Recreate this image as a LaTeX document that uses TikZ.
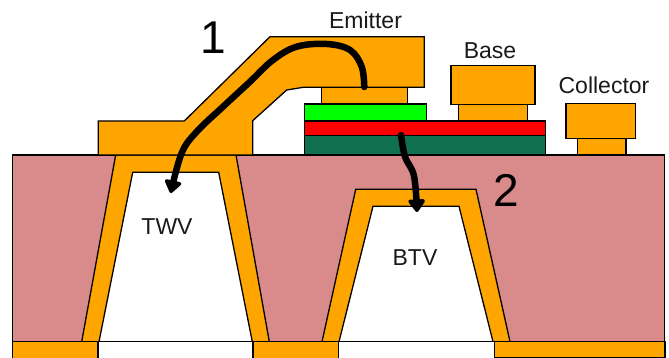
\documentclass[tikz,border=0pt]{standalone}
\usepackage{fontspec}
\setmainfont{Liberation Sans}
\usetikzlibrary{arrows.meta}
\definecolor{metal}{HTML}{FFA500}
\definecolor{sub}{HTML}{D98B8B}
\definecolor{dgreen}{HTML}{117050}
\definecolor{lgreen}{HTML}{00FF00}
\definecolor{lred}{HTML}{FF0000}
\tikzset{
  part/.style={draw=black,line width=1.3pt,line join=miter},
  metalpart/.style={part,fill=metal},
  lab/.style={font=\fontsize{23}{24}\selectfont,text=black!90,inner sep=0pt,anchor=center},
  num/.style={font=\fontsize{46}{48}\selectfont,text=black,inner sep=0pt,anchor=center},
  flow/.style={draw=black,line width=6.5pt,line cap=round,line join=round,-{Triangle[width=19pt,length=14pt,round]}}
}
\begin{document}
\begin{tikzpicture}[x=1pt,y=-1pt]
\useasboundingbox (0,0) rectangle (669,358);
\clip (0,0) rectangle (669,358);
% substrate
\draw[part,fill=sub] (12.5,155) rectangle (664.5,341.7);
% vias
\draw[metalpart] (115.7,155) -- (236,155) -- (269.3,341.7) -- (81.7,341.7) -- cycle;
\draw[part,fill=white] (132.7,172.3) -- (218.7,172.3) -- (252.3,341.7) -- (99,341.7) -- cycle;
\draw[metalpart] (355.7,189.3) -- (476,189.3) -- (510,341.7) -- (322,341.7) -- cycle;
\draw[part,fill=white] (373,206.3) -- (459,206.3) -- (493,341.7) -- (339,341.7) -- cycle;
% bottom pads
\draw[metalpart] (12.5,341.7) rectangle (98,365);
\draw[metalpart] (253,341.7) rectangle (338.5,365);
\draw[metalpart] (494.5,341.7) rectangle (665,357.3);
\draw[part,fill=white] (98,341.7) rectangle (253,365);
\draw[part,fill=white] (338.5,341.7) rectangle (494.5,365);
% emitter metal
\draw[metalpart] (270,36.7) -- (424.3,36.7) -- (424.3,87.3) -- (303.3,87.3) -- (286.7,90) -- (252.7,120.7) -- (252.7,155) -- (98.3,155) -- (98.3,121) -- (184.3,121) -- cycle;
% transistor stack
\draw[part,fill=dgreen] (304.3,135.5) rectangle (545.7,155);
\draw[part,fill=lred] (304.3,121) rectangle (545.7,135.5);
\draw[part,fill=lgreen] (304.3,104) rectangle (426.7,121);
\draw[metalpart] (321.7,87.5) rectangle (407.3,104);
% base
\draw[metalpart] (458.7,104.5) rectangle (527.3,121);
\draw[metalpart] (451,65.3) rectangle (535,104.5);
% collector
\draw[metalpart] (577.3,138.3) rectangle (626,155);
\draw[metalpart] (566,103.7) rectangle (635.7,138.3);
% labels
\node[lab] (emitter) at (365.5,20) {Emitter};
\node[lab] (base) at (490,50.5) {Base};
\node[lab] (collector) at (604,85) {Collector};
\node[lab] (twv) at (167,227) {TWV};
\node[lab] (btv) at (415,258) {BTV};
\node[num] (one) at (213,38) {1};
\node[num] (two) at (506,190) {2};
% current paths
\coordinate (s1) at (364.3,87);
\coordinate (e1) at (170.7,193);
\coordinate (s2) at (401,135);
\coordinate (e2) at (417,212);
\draw[flow] plot[smooth,tension=0.6] coordinates {(s1) (361.7,66.7) (350,50) (326.7,44) (296.7,46.7) (273,60) (250,81.7) (223,106.7) (196.7,131.7) (181.7,153) (e1)};
\draw[flow] plot[smooth,tension=0.6] coordinates {(s2) (405,156.7) (414,176) (e2)};
\end{tikzpicture}
\end{document}
